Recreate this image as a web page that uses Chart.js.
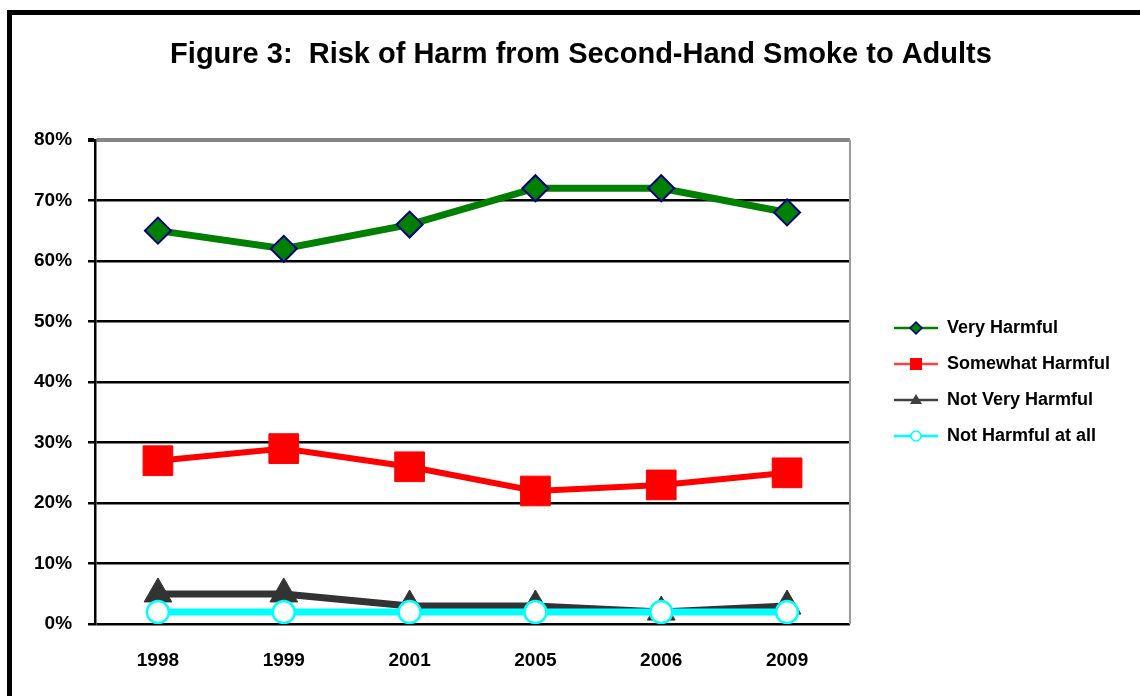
<!DOCTYPE html>
<html lang="en">
<head>
<meta charset="UTF-8" />
<title>Risk of Harm from Second-Hand Smoke to Adults</title>
<script src="https://cdn.jsdelivr.net/npm/chart.js"></script>
<style>
  html, body {
    margin: 0;
    padding: 0;
    background: #fff;
    width: 1140px;
    height: 696px;
    overflow: hidden;
  }
  .frame {
    position: absolute;
    left: 7px;
    top: 10px;
    width: 1150px;
    height: 700px;
    border: 5px solid #000;
    background: #fff;
  }
  canvas { display: block; }
</style>
</head>
<body>
<div class="frame">
  <canvas id="harmChart" width="1150" height="690"></canvas>
</div>
<script>
// survey years and share of respondents (%) per answer
const years = ['1998', '1999', '2001', '2005', '2006', '2009'];
const veryHarmful = [65, 62, 66, 72, 72, 68];
const somewhatHarmful = [27, 29, 26, 22, 23, 25];
const notVeryHarmful = [5, 5, 3, 3, 2, 3];
const notHarmfulAtAll = [2, 2, 2, 2, 2, 2];
const yMin = 0, yMax = 80, yStep = 10;

const FONT = 'Arial, "Liberation Sans", sans-serif';

// small line-with-marker swatches for the legend
function legendIcon(lineColor, drawMarker) {
  const c = document.createElement('canvas');
  c.width = 70;
  c.height = 24;
  const g = c.getContext('2d');
  g.strokeStyle = lineColor;
  g.lineWidth = 2.5;
  g.beginPath();
  g.moveTo(26, 12);
  g.lineTo(70, 12);
  g.stroke();
  drawMarker(g, 48, 12);
  return c;
}

const icons = [
  legendIcon('#008000', (g, x, y) => {
    g.beginPath();
    g.moveTo(x, y - 6); g.lineTo(x + 6, y); g.lineTo(x, y + 6); g.lineTo(x - 6, y);
    g.closePath();
    g.fillStyle = '#008000'; g.fill();
    g.strokeStyle = '#000080'; g.lineWidth = 1.5; g.stroke();
  }),
  legendIcon('#FF4040', (g, x, y) => {
    g.fillStyle = '#FF0000';
    g.fillRect(x - 6, y - 6, 12, 12);
  }),
  legendIcon('#404040', (g, x, y) => {
    g.beginPath();
    g.moveTo(x, y - 6); g.lineTo(x + 6, y + 4); g.lineTo(x - 6, y + 4);
    g.closePath();
    g.fillStyle = '#404040'; g.fill();
  }),
  legendIcon('#00FFFF', (g, x, y) => {
    g.beginPath();
    g.arc(x, y, 5, 0, Math.PI * 2);
    g.fillStyle = '#fff'; g.fill();
    g.strokeStyle = '#00FFFF'; g.lineWidth = 1.5; g.stroke();
  })
];

// gray right edge of the plot area
const plotEdge = {
  id: 'plotEdge',
  beforeDatasetsDraw(chart) {
    const { ctx, chartArea } = chart;
    ctx.save();
    ctx.strokeStyle = '#9a9a9a';
    ctx.lineWidth = 2;
    ctx.beginPath();
    ctx.moveTo(chartArea.right, chartArea.top);
    ctx.lineTo(chartArea.right, chartArea.bottom);
    ctx.stroke();
    ctx.restore();
  }
};

// the frame runs past the right edge of the page, so centre the title on the frame
const titleCenter = 569;
const frameTitle = {
  id: 'frameTitle',
  afterLayout(chart) {
    const t = chart.titleBlock;
    if (!t) return;
    const dx = titleCenter - (t.left + t.right) / 2;
    t.left += dx;
    t.right += dx;
  }
};

new Chart(document.getElementById('harmChart'), {
  type: 'line',
  data: {
    labels: years,
    datasets: [
      {
        label: 'Very Harmful',
        data: veryHarmful,
        order: 0,
        borderColor: '#008000',
        borderWidth: 7,
        pointStyle: 'rectRot',
        pointRadius: 13,
        pointBackgroundColor: '#008000',
        pointBorderColor: '#000080',
        pointBorderWidth: 2
      },
      {
        label: 'Somewhat Harmful',
        data: somewhatHarmful,
        order: 1,
        borderColor: '#FF0000',
        borderWidth: 6,
        pointStyle: 'rect',
        pointRadius: 21,
        pointBackgroundColor: '#FF0000',
        pointBorderColor: '#FF0000',
        pointBorderWidth: 1
      },
      {
        label: 'Not Very Harmful',
        data: notVeryHarmful,
        order: 3,
        borderColor: '#333333',
        borderWidth: 7,
        pointStyle: 'triangle',
        pointRadius: 16,
        pointBackgroundColor: '#333333',
        pointBorderColor: '#333333',
        pointBorderWidth: 1
      },
      {
        label: 'Not Harmful at all',
        data: notHarmfulAtAll,
        order: 2,
        borderColor: '#00FFFF',
        borderWidth: 7,
        pointStyle: 'circle',
        pointRadius: 11,
        pointBackgroundColor: '#FFFFFF',
        pointBorderColor: '#00FFFF',
        pointBorderWidth: 2.5
      }
    ]
  },
  options: {
    responsive: false,
    animation: false,
    layout: { padding: { left: 6, right: 42, top: 0, bottom: 8 } },
    elements: { line: { tension: 0 } },
    scales: {
      x: {
        offset: true,
        grid: { display: false, drawTicks: false },
        border: { display: false },
        ticks: {
          padding: 25,
          color: '#000',
          font: { family: FONT, size: 19, weight: 'bold' }
        }
      },
      y: {
        min: yMin,
        max: yMax,
        ticks: {
          stepSize: yStep,
          padding: 16,
          color: '#000',
          font: { family: FONT, size: 19, weight: 'bold' },
          callback: v => v + '%'
        },
        grid: {
          color: c => (c.tick && c.tick.value === yMax ? '#858585' : '#000'),
          lineWidth: c => (c.tick && c.tick.value === yMax ? 4 : 2.5),
          tickColor: '#000',
          tickLength: 7
        },
        border: { color: '#000', width: 2.5 }
      }
    },
    plugins: {
      title: {
        display: true,
        text: 'Figure 3:  Risk of Harm from Second-Hand Smoke to Adults',
        color: '#000',
        font: { family: FONT, size: 29, weight: 'bold' },
        padding: { top: 23, bottom: 67 }
      },
      legend: {
        position: 'right',
        align: 'center',
        fullSize: false,
        labels: {
          usePointStyle: true,
          pointStyleWidth: 70,
          padding: 18,
          color: '#000',
          font: { family: FONT, size: 18, weight: 'bold' },
          generateLabels: chart => chart.data.datasets.map((ds, i) => ({
            text: ds.label,
            pointStyle: icons[i],
            fillStyle: 'transparent',
            strokeStyle: 'transparent',
            lineWidth: 0,
            fontColor: '#000',
            hidden: false,
            datasetIndex: i
          }))
        }
      },
      tooltip: { enabled: false }
    }
  },
  plugins: [plotEdge, frameTitle]
});
</script>
</body>
</html>
